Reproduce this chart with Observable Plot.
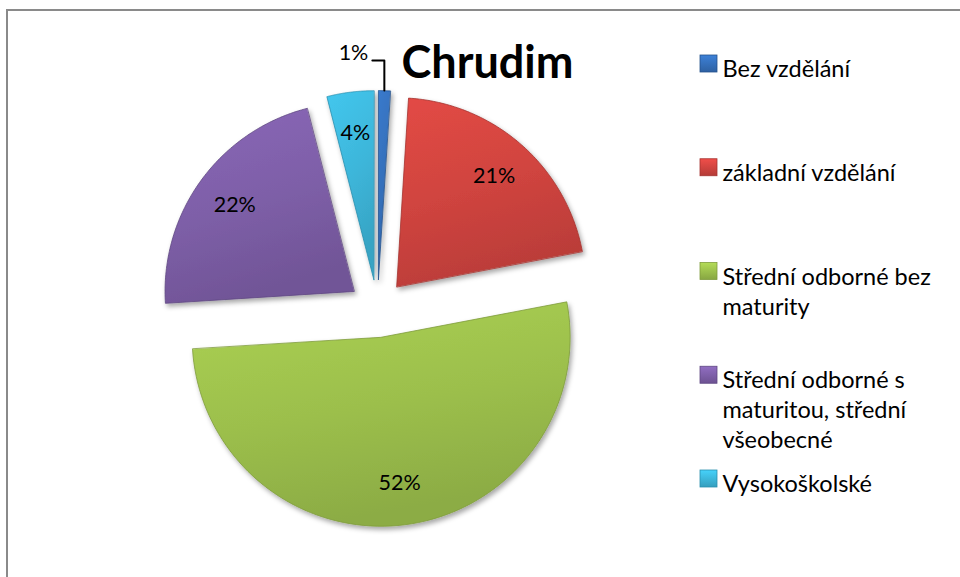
<!DOCTYPE html>
<html><head><meta charset="utf-8">
<script src="https://cdn.jsdelivr.net/npm/d3@7"></script>
<script src="https://cdn.jsdelivr.net/npm/@observablehq/plot@0.6"></script>
<style>
body{margin:0;background:#fff;}
#wrap{position:relative;width:960px;height:577px;overflow:hidden;}
#wrap svg{position:absolute;left:0;top:0;}
#frame{position:absolute;left:6px;top:9px;width:1000px;height:1000px;border-left:2px solid #8a8a8a;border-top:2px solid #8a8a8a;pointer-events:none;}
</style></head><body><div id="wrap"><div id="frame"></div></div>
<script>
// ---- data ----
const title = "Chrudim";
const categories = ["Bez vzdělání", "základní vzdělání", "Střední odborné bez maturity", "Střední odborné s maturitou, střední všeobecné", "Vysokoškolské"];
const values = [1, 21, 52, 22, 4];
const valueLabels = ["1%", "21%", "52%", "22%", "4%"];
const legendLabels = ["Bez vzdělání", "základní vzdělání", "Střední odborné bez\nmaturity", "Střední odborné s\nmaturitou, střední\nvšeobecné", "Vysokoškolské"];
// ---- style ----
const palette = ["#3570bb", "#d0443f", "#9cbf4c", "#7e5fa8", "#3db6da"];
const strokes = ["#24528c", "#a53330", "#7f9c3c", "#5f4782", "#2a8fae"];

// ---- layout ----
const W = 960, H = 577;
const cx = 377, cy = 308, R = 189, explode = 29, labelR = 0.78;
const N = 90;

const arcs = d3.pie().sort(null).value(d => d)(values);
const slicePts = [];
const labelRows = [];
let leader = [], outsideLabel = [];
arcs.forEach((a, i) => {
  const m = (a.startAngle + a.endAngle) / 2;
  const ax = cx + explode * Math.sin(m), ay = cy - explode * Math.cos(m);
  slicePts.push({cat: i, x: ax, y: ay, fill: `url(#g${i})`, stroke: strokes[i]});
  for (let k = 0; k <= N; k++) {
    const t = a.startAngle + (a.endAngle - a.startAngle) * k / N;
    slicePts.push({cat: i, x: ax + R * Math.sin(t), y: ay - R * Math.cos(t), fill: `url(#g${i})`, stroke: strokes[i]});
  }
  if (a.data >= 2) {
    labelRows.push({x: ax + labelR * R * Math.sin(m), y: ay - labelR * R * Math.cos(m), text: valueLabels[i]});
  } else {
    const ox = ax + R * Math.sin(m), oy = ay - R * Math.cos(m);
    leader = [{x: ox, y: oy}, {x: ox, y: oy - 30}, {x: ox - 12, y: oy - 30}];
    outsideLabel = [{x: ox - 16, y: oy - 37, text: valueLabels[i]}];
  }
});

const legFont = 23.5;
const legX = 700, legTextX = 722, legTop = 72, legStep = 103.75;
const legendRows = legendLabels.map((l, i) => ({
  i, text: l, fill: `url(#lg${i})`, stroke: strokes[i],
  x1: legX, x2: legX + 17, y1: legTop + i * legStep - 17, y2: legTop + i * legStep,
  ty: legTop + i * legStep - 0.71 * legFont
}));

const chart = Plot.plot({
  width: W, height: H, margin: 0,
  x: {domain: [0, W], range: [0, W], axis: null},
  y: {domain: [0, H], range: [0, H], axis: null},
  color: {type: "identity"},
  style: {fontFamily: "Lato, 'Open Sans', sans-serif", background: "transparent", overflow: "visible"},
  marks: [
    Plot.line(slicePts, {x: "x", y: "y", z: "cat", fill: "fill", stroke: "stroke", strokeWidth: 0.8, curve: "linear-closed"}),
    Plot.line(leader, {x: "x", y: "y", stroke: "#000", strokeWidth: 2}),
    Plot.text(labelRows, {x: "x", y: "y", text: "text", fontSize: 21.5, fill: "#000"}),
    Plot.text(outsideLabel, {x: "x", y: "y", text: "text", fontSize: 21.5, fill: "#000", textAnchor: "end"}),
    Plot.text([title], {x: () => 487, y: () => 62.6, text: d => d, fontSize: 45, fontWeight: "bold", fill: "#000"}),
    Plot.rect(legendRows, {x1: "x1", x2: "x2", y1: "y1", y2: "y2", fill: "fill", stroke: "stroke", strokeWidth: 0.8}),
    Plot.text(legendRows, {x: () => legTextX, y: "ty", text: "text", fontSize: legFont, textAnchor: "start", lineAnchor: "top", lineHeight: 30 / legFont, fill: "#000"})
  ]
});

const svg = d3.select(chart);
const defs = svg.insert("defs", ":first-child");
palette.forEach((c, i) => {
  const g = defs.append("linearGradient").attr("id", "g" + i).attr("x1", 0).attr("y1", 0).attr("x2", 0.3).attr("y2", 1);
  g.append("stop").attr("offset", "0%").attr("stop-color", d3.color(c).brighter(0.25).formatHex());
  g.append("stop").attr("offset", "55%").attr("stop-color", c);
  g.append("stop").attr("offset", "100%").attr("stop-color", d3.color(c).darker(0.3).formatHex());
  const lg = defs.append("linearGradient").attr("id", "lg" + i).attr("x1", 0).attr("y1", 0).attr("x2", 0).attr("y2", 1);
  lg.append("stop").attr("offset", "0%").attr("stop-color", d3.color(c).brighter(0.4).formatHex());
  lg.append("stop").attr("offset", "100%").attr("stop-color", d3.color(c).darker(0.4).formatHex());
});
const f = defs.append("filter").attr("id", "sh").attr("x", "-10%").attr("y", "-10%").attr("width", "130%").attr("height", "130%");
f.append("feDropShadow").attr("dx", 2).attr("dy", 3).attr("stdDeviation", 2.5).attr("flood-color", "#000").attr("flood-opacity", 0.35);
svg.select('g[aria-label="line"]').attr("filter", "url(#sh)");

document.getElementById("wrap").prepend(chart);
</script>
</body></html>
